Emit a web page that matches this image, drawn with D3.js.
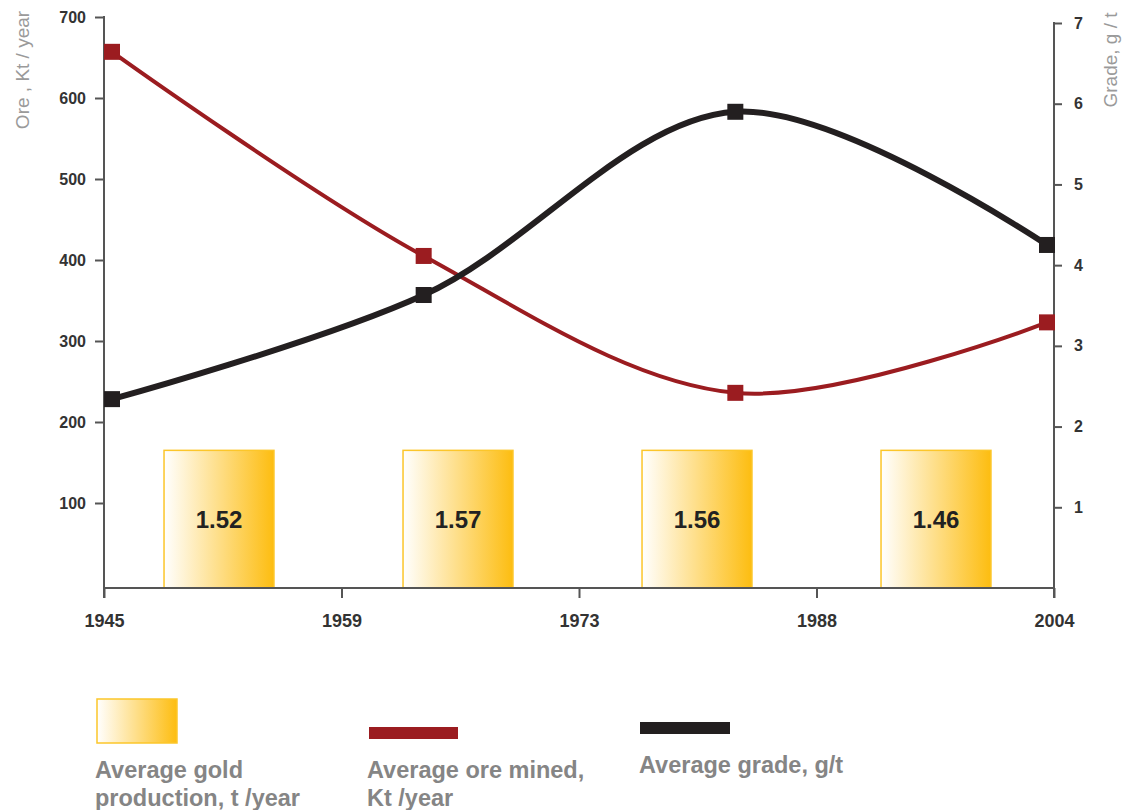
<!DOCTYPE html>
<html><head><meta charset="utf-8">
<script src="https://cdn.jsdelivr.net/npm/d3@7"></script>
<style>body{margin:0;background:#fff;font-family:"Liberation Sans",Arial,sans-serif;}</style>
</head><body>
<svg id="c" width="1128" height="810"></svg>
<script>
const periods = ["P1","P2","P3","P4"];
const xTickLabels = ["1945","1959","1973","1988","2004"];
const oreMined = [657, 405, 236, 323];
const grade = [2.34, 3.63, 5.9, 4.25];
const goldProduction = [1.52, 1.57, 1.56, 1.46];
const leftTicks = [100,200,300,400,500,600,700];
const rightTicks = [1,2,3,4,5,6,7];
const boxTop = 165; // box height in ore units (boxes equal height)

const svg = d3.select("#c");
const defs = svg.append("defs");
const g = defs.append("linearGradient").attr("id","gold").attr("x1","0").attr("x2","1").attr("y1","0").attr("y2","0");
g.append("stop").attr("offset","0").attr("stop-color","#ffffff");
g.append("stop").attr("offset","1").attr("stop-color","#fdbd10");

const xAxisScale = d3.scalePoint().domain(xTickLabels).range([104,1054]);
const xBand = d3.scaleBand().domain(periods).range([99.5,1055.5]).paddingInner(0.54).paddingOuter(0.27);
const xPt = d3.scalePoint().domain(periods).range([112,1047]);
const yL = d3.scaleLinear().domain([0,700]).range([584,17]);
const yR = d3.scaleLinear().domain([0,7]).range([588,23]);

// bars
const bars = svg.append("g");
bars.selectAll("rect").data(goldProduction).join("rect")
  .attr("x",(d,i)=>xBand(periods[i]))
  .attr("width",xBand.bandwidth())
  .attr("y",yL(boxTop))
  .attr("height",588-yL(boxTop))
  .attr("fill","url(#gold)").attr("stroke","#fcc62a").attr("stroke-width",1.5);
bars.selectAll("text").data(goldProduction).join("text")
  .attr("x",(d,i)=>xBand(periods[i])+xBand.bandwidth()/2)
  .attr("y",528).attr("text-anchor","middle")
  .attr("font-size",24).attr("font-weight","bold").attr("fill","#222")
  .text(d=>d.toFixed(2));

// axes
const axCol="#555";
const left = svg.append("g").attr("transform","translate(104,0)")
  .call(d3.axisLeft(yL).tickValues(leftTicks).tickSize(9).tickPadding(9));
const right = svg.append("g").attr("transform","translate(1054,0)")
  .call(d3.axisRight(yR).tickValues(rightTicks).tickFormat(d3.format("d")).tickSize(8).tickPadding(12));
const bottom = svg.append("g").attr("transform","translate(0,588)")
  .call(d3.axisBottom(xAxisScale).tickSize(10).tickPadding(16));
[left,right,bottom].forEach(a=>{
  a.attr("font-size",null).attr("font-family",null);
  a.select(".domain").remove();
  a.selectAll("line").attr("stroke",axCol).attr("stroke-width",2);
  a.selectAll("text").style("font-size","16px").style("font-weight","bold").attr("fill","#333")
   .style("font-family","'Liberation Sans',Arial,sans-serif");
});
bottom.selectAll("text").style("font-size","18px");
svg.append("line").attr("x1",104).attr("x2",104).attr("y1",16).attr("y2",598).attr("stroke",axCol).attr("stroke-width",2);
svg.append("line").attr("x1",1054).attr("x2",1054).attr("y1",22).attr("y2",598).attr("stroke",axCol).attr("stroke-width",2);
svg.append("line").attr("x1",104).attr("x2",1054).attr("y1",588).attr("y2",588).attr("stroke",axCol).attr("stroke-width",2);

svg.append("text").attr("transform","translate(29,70) rotate(-90)").attr("text-anchor","middle")
  .attr("font-size",19).attr("fill","#9a9a9a").text("Ore , Kt / year");
svg.append("text").attr("transform","translate(1117,60) rotate(-90)").attr("text-anchor","middle")
  .attr("font-size",19).attr("fill","#9a9a9a").text("Grade, g / t");

// lines
const curve = d3.curveCatmullRom.alpha(0.5);
const lineOre = d3.line().x((d,i)=>xPt(periods[i])).y(d=>yL(d)).curve(curve);
const lineGrade = d3.line().x((d,i)=>xPt(periods[i])).y(d=>yR(d)).curve(curve);
svg.append("path").attr("d",lineOre(oreMined)).attr("fill","none").attr("stroke","#9b1c20").attr("stroke-width",4);
svg.append("path").attr("d",lineGrade(grade)).attr("fill","none").attr("stroke","#231f20").attr("stroke-width",6);
svg.selectAll(".mo").data(oreMined).join("rect").attr("class","mo")
  .attr("x",(d,i)=>xPt(periods[i])-8).attr("y",d=>yL(d)-8).attr("width",16).attr("height",16).attr("fill","#9b1c20");
svg.selectAll(".mg").data(grade).join("rect").attr("class","mg")
  .attr("x",(d,i)=>xPt(periods[i])-8).attr("y",d=>yR(d)-8).attr("width",16).attr("height",16).attr("fill","#231f20");

// legend
const lg = svg.append("g");
lg.append("rect").attr("x",97).attr("y",699).attr("width",80).attr("height",44).attr("fill","url(#gold)").attr("stroke","#fcc62a").attr("stroke-width",1.5);
lg.append("rect").attr("x",369).attr("y",727).attr("width",89).attr("height",12).attr("fill","#9b1c20");
lg.append("rect").attr("x",640).attr("y",722).attr("width",90).attr("height",12).attr("fill","#231f20");
const lt = [[95,778,"Average gold"],[95,806,"production, t /year"],[367,778,"Average ore mined,"],[367,806,"Kt /year"],[639,773,"Average grade, g/t"]];
lg.selectAll("text").data(lt).join("text").attr("x",d=>d[0]).attr("y",d=>d[1])
  .attr("font-size",23.5).attr("font-weight","bold").attr("fill","#858585").text(d=>d[2]);
</script>
</body></html>
